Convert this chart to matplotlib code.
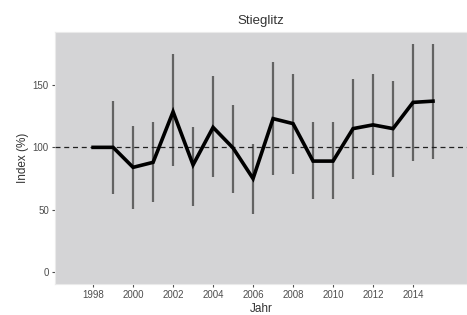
import numpy as np
import matplotlib.pyplot as plt

plt.rcParams['font.family'] = ['Liberation Sans', 'DejaVu Sans']

years = [1998, 1999, 2000, 2001, 2002, 2003, 2004, 2005, 2006, 2007,
         2008, 2009, 2010, 2011, 2012, 2013, 2014, 2015]
index = [100, 100, 84, 88, 128.5, 86, 116, 99.5, 75, 123,
         119, 89, 89, 115, 118, 115, 136, 137]
ci_low = [100, 62.5, 50.5, 56, 85, 53, 76, 63.5, 46.5, 78,
          79, 58.5, 58.5, 75, 77.5, 76, 89, 90.5]
ci_high = [100, 137.5, 117, 120, 175, 116, 157, 134, 103, 168.5,
           159, 120, 120, 155, 159, 153.5, 183, 183]

yticks = [0, 50, 100, 150]
xticks = [1998, 2000, 2002, 2004, 2006, 2008, 2010, 2012, 2014]

fig = plt.figure(figsize=(4.67, 3.15), dpi=100)
ax = fig.add_axes([0.118, 0.10, 0.882, 0.797])
ax.set_facecolor('#d4d4d6')

# error bars (no bar for the reference year)
ax.vlines(years[1:], ci_low[1:], ci_high[1:], color='#636363', lw=1.6, zorder=2)
ax.axhline(100, color='#222222', lw=0.9, ls=(0, (4, 3)), zorder=3)
ax.plot(years, index, color='black', lw=2.6, solid_joinstyle='miter', zorder=4)

ax.set_xlim(1996.1, 2016.7)
ax.set_ylim(-9, 192)
ax.set_xticks(xticks)
ax.set_yticks(yticks)
ax.tick_params(axis='both', labelsize=7, colors='#4d4d4d', length=2.5, width=0.8, pad=2)
for s in ax.spines.values():
    s.set_color('#eaeaea')
    s.set_linewidth(0.8)

ax.set_title('Stieglitz', fontsize=9.5, color='#333333', pad=6)
ax.set_xlabel('Jahr', fontsize=8.5, color='#333333', labelpad=2)
ax.set_ylabel('Index (%)', fontsize=8.5, color='#333333', labelpad=3)

fig.savefig('out.png', dpi=100)
